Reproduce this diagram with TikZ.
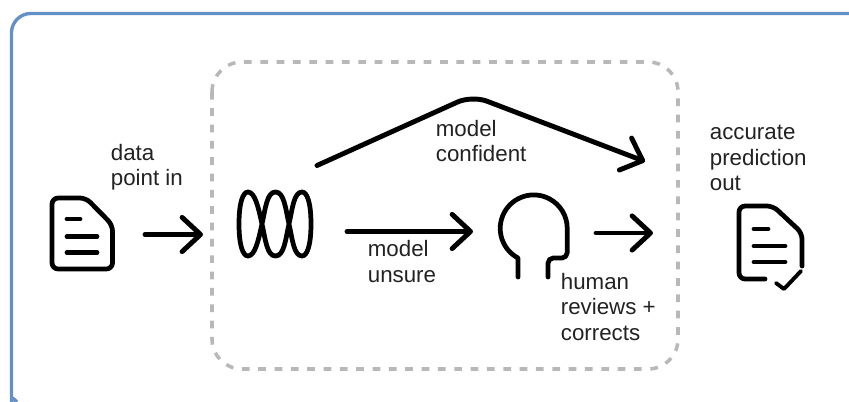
\documentclass[tikz,border=0pt]{standalone}
\usepackage{fontspec}
\setmainfont{Liberation Sans}
\usetikzlibrary{arrows.meta}
\definecolor{framecolor}{HTML}{6490C8}
\definecolor{dashcolor}{HTML}{B8B8B8}
\definecolor{labelcolor}{HTML}{222222}
\tikzset{
    frameline/.style={draw=framecolor, line width=1.9pt, rounded corners=11pt},
    dashline/.style={draw=dashcolor, line width=2pt, rounded corners=17pt, dash pattern=on 4.4pt off 4.9pt},
    icon/.style={draw=black, line width=2.7pt, line cap=round, line join=round},
    thinicon/.style={icon, line width=2.2pt},
    flow/.style={icon, line width=2.8pt, -{Straight Barb[round, length=10.5pt, width=19.5pt, line width=2.8pt]}},
    label/.style={text=labelcolor, inner sep=0pt, anchor=west, align=left, font=\fontsize{12.7}{14.5}\selectfont},
}
\begin{document}
\begin{tikzpicture}[x=0.02cm, y=-0.02cm]
    \useasboundingbox (0, 0) rectangle (849, 402);

    % frames
    \draw[frameline] (849, 13.5) -- (11.5, 13.5) -- (11.5, 388) .. controls (11.5, 394) and (13.5, 399) .. (17, 402);
    \draw[dashline] (212, 62) rectangle (678, 369);

    % labels
    \node[label] (datalabel) at (110.5, 167) {data\\point in};
    \node[label] (confidentlabel) at (435.5, 141) {model\\confident};
    \node[label] (unsurelabel) at (367.5, 261.5) {model\\unsure};
    \node[label] (humanlabel) at (560.5, 307) {human\\reviews +\\corrects};
    \node[label] (outlabel) at (709.5, 158) {accurate\\prediction\\out};

    % document in
    \draw[icon, rounded corners=3.5pt] (52, 230) -- (52, 198) -- (86, 198) -- (112.5, 225) -- (112.5, 269) -- (52, 269) -- cycle;
    \draw[icon] (67, 219) -- (80, 219);
    \draw[icon] (67, 236.5) -- (97, 236.5);
    \draw[icon] (67, 252.5) -- (97, 252.5);

    % model
    \draw[icon] (248, 192) .. controls (255, 192) and (258.5, 208) .. (262, 224)
        .. controls (265.5, 240) and (267, 256) .. (275.5, 256)
        .. controls (284, 256) and (285.5, 240) .. (289, 224)
        .. controls (292.5, 208) and (294, 192) .. (302, 192)
        .. controls (307.5, 192) and (311, 204) .. (311, 224)
        .. controls (311, 244) and (307.5, 256) .. (302, 256)
        .. controls (294, 256) and (292.5, 240) .. (289, 224)
        .. controls (285.5, 208) and (284, 192) .. (275.5, 192)
        .. controls (267, 192) and (265.5, 208) .. (262, 224)
        .. controls (258.5, 240) and (255, 256) .. (248, 256)
        .. controls (242.5, 256) and (239, 244) .. (239, 224)
        .. controls (239, 204) and (242.5, 192) .. (248, 192) -- cycle;

    % human
    \draw[icon] (518, 277) -- (518, 258) arc[start angle=118, end angle=360, radius=33.5] -- (567.2, 252) [rounded corners=3pt] -- (567.2, 258) -- (548, 258) -- (548, 277);

    % document out
    \draw[icon, rounded corners=3.5pt] (765, 279) -- (739, 279) -- (739, 206) -- (773, 206) -- (802, 233) -- (802, 266);
    \draw[icon] (754, 229) -- (768, 229);
    \draw[icon] (754, 246) -- (785, 246);
    \draw[icon] (754, 262) -- (785, 262);
    \draw[thinicon] (776, 283) -- (784, 289) -- (801, 271);

    % connector ends
    \coordinate (datastart) at (145, 234.5);
    \coordinate (dataend) at (203, 234.5);
    \coordinate (confidentstart) at (317, 165.5);
    \coordinate (confidenttop) at (472, 95.5);
    \coordinate (confidentend) at (645, 161.5);
    \coordinate (unsurestart) at (347, 231.5);
    \coordinate (unsureend) at (473, 231.5);
    \coordinate (humanstart) at (596, 233);
    \coordinate (humanend) at (653, 233);

    \draw[flow] (datastart) -- (dataend);
    \draw[flow, rounded corners=9pt] (confidentstart) -- (confidenttop) -- (confidentend);
    \draw[flow] (unsurestart) -- (unsureend);
    \draw[flow] (humanstart) -- (humanend);
\end{tikzpicture}
\end{document}
